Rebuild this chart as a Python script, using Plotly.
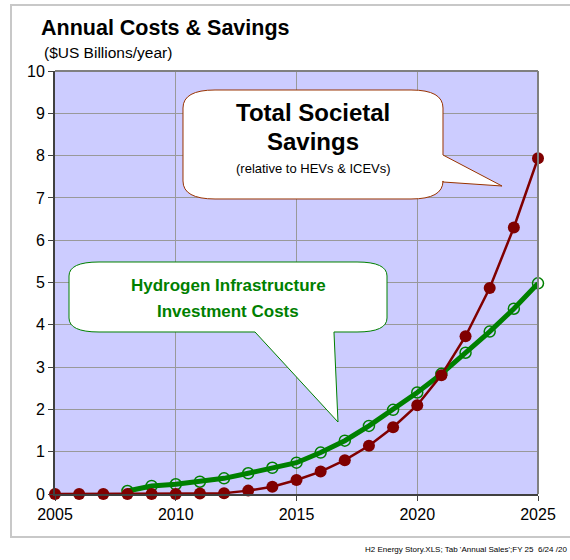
import plotly.graph_objects as go

years = list(range(2005, 2026))
savings = [0, 0, 0, 0, 0, 0, 0.01, 0.02, 0.08, 0.17, 0.33, 0.53, 0.80, 1.14, 1.58,
           2.10, 2.81, 3.73, 4.87, 6.30, 7.94]
h2_years = list(range(2008, 2026))
h2_costs = [0.07, 0.19, 0.23, 0.29, 0.37, 0.49, 0.62, 0.74, 0.98, 1.26, 1.61, 1.99,
            2.40, 2.84, 3.34, 3.84, 4.38, 4.98]

W, H = 570, 560
L, R, T, B = 55, 538, 71, 494   # plot area in pixels


def px(x, y):
    # pixel -> paper coords
    return (x - L) / (R - L), (B - y) / (B - T)


def path(pts):
    s = ''
    for cmd, p in pts:
        if cmd == 'Q':
            a = px(*p[0])
            b = px(*p[1])
            s += 'Q %.4f,%.4f %.4f,%.4f ' % (a[0], a[1], b[0], b[1])
        else:
            a = px(*p)
            s += '%s %.4f,%.4f ' % (cmd, a[0], a[1])
    return s + 'Z'


def callout(x0, y0, x1, y1, rx, ry, tail):
    pts = [('M', (x0 + rx, y0)), ('L', (x1 - rx, y0)), ('Q', ((x1, y0), (x1, y0 + ry)))]
    if tail[0] == 'right':
        pts += [('L', p) for p in tail[1]]
    pts += [('L', (x1, y1 - ry)), ('Q', ((x1, y1), (x1 - rx, y1)))]
    if tail[0] == 'bottom':
        pts += [('L', p) for p in tail[1]]
    pts += [('L', (x0 + rx, y1)), ('Q', ((x0, y1), (x0, y1 - ry))),
            ('L', (x0, y0 + ry)), ('Q', ((x0, y0), (x0 + rx, y0)))]
    return path(pts)


fig = go.Figure()
fig.add_trace(go.Scatter(
    x=h2_years, y=h2_costs, mode='lines+markers', name='Hydrogen Infrastructure',
    line=dict(color='#008000', width=5),
    marker=dict(symbol='circle-open', size=11, color='#008000', line=dict(width=1.5)),
    cliponaxis=False
))
fig.add_trace(go.Scatter(
    x=years, y=savings, mode='lines+markers', name='Total Societal Savings',
    line=dict(color='#800000', width=2.5),
    marker=dict(symbol='circle', size=12, color='#800000'),
    cliponaxis=False
))

fx0, fy0 = px(11, 5)
fx1, fy1 = px(600, 537)
bx0, by0 = px(L, T)
bx1, by1 = px(R, B)
shapes = [
    dict(type='rect', xref='paper', yref='paper', x0=fx0, y0=fy0, x1=fx1, y1=fy1,
         line=dict(color='#C8C8C8', width=2), layer='below'),
    dict(type='path', xref='paper', yref='paper',
         path=callout(183, 90, 443, 199, 32, 18, ('right', [(443, 155), (502, 186), (443, 182)])),
         fillcolor='white', line=dict(color='#993300', width=1)),
    dict(type='path', xref='paper', yref='paper',
         path=callout(69, 262, 387, 332, 30, 14, ('bottom', [(334, 332), (338, 422), (255, 332)])),
         fillcolor='white', line=dict(color='#008000', width=1)),
    dict(type='line', xref='paper', yref='paper', x0=bx0, y0=by0, x1=bx1, y1=by0,
         line=dict(color='#808080', width=2)),
    dict(type='line', xref='paper', yref='paper', x0=bx1, y0=by0, x1=bx1, y1=by1,
         line=dict(color='#808080', width=2)),
]

ann = []


def text(t, x, y, size, color='black', bold=False, anchor='center'):
    xp, yp = px(x, y)
    ann.append(dict(text='<b>%s</b>' % t if bold else t, x=xp, y=yp, xref='paper', yref='paper',
                    showarrow=False, xanchor=anchor, yanchor='middle',
                    font=dict(size=size, color=color, family='Liberation Sans, Arial')))


text('Annual Costs & Savings', 39, 28, 21.5, bold=True, anchor='left')
text('($US Billions/year)', 42, 52, 15.5, anchor='left')
text('Total Societal', 313, 112, 24, bold=True)
text('Savings', 313, 141, 24, bold=True)
text('(relative to HEVs & ICEVs)', 313, 168, 13)
text('Hydrogen Infrastructure', 228, 285, 17, color='#008000', bold=True)
text('Investment Costs', 228, 311, 17, color='#008000', bold=True)
text("H2 Energy Story.XLS; Tab 'Annual Sales';FY 25  6/24 /20", 569, 549, 8, anchor='right')

fig.update_layout(
    width=W, height=H,
    margin=dict(l=L, r=W - R, t=T, b=H - B),
    paper_bgcolor='white', plot_bgcolor='#CCCCFF',
    showlegend=False,
    shapes=shapes, annotations=ann,
    font=dict(family='Liberation Sans, Arial', size=16, color='black'),
    xaxis=dict(range=[2005, 2025], dtick=5, tick0=2005, ticks='outside', ticklen=5,
               tickcolor='#404040', showline=True, linecolor='#404040', linewidth=2,
               gridcolor='#999999', gridwidth=1, zeroline=False,
               tickfont=dict(size=16)),
    yaxis=dict(range=[0, 10], dtick=1, ticks='outside', ticklen=5, tickcolor='#404040',
               showline=True, linecolor='#404040', linewidth=2,
               gridcolor='#999999', gridwidth=1, zeroline=False,
               tickfont=dict(size=16)),
)

fig.write_html("out.html", config={'displayModeBar': False},
               post_script="document.body.style.margin='0';")
